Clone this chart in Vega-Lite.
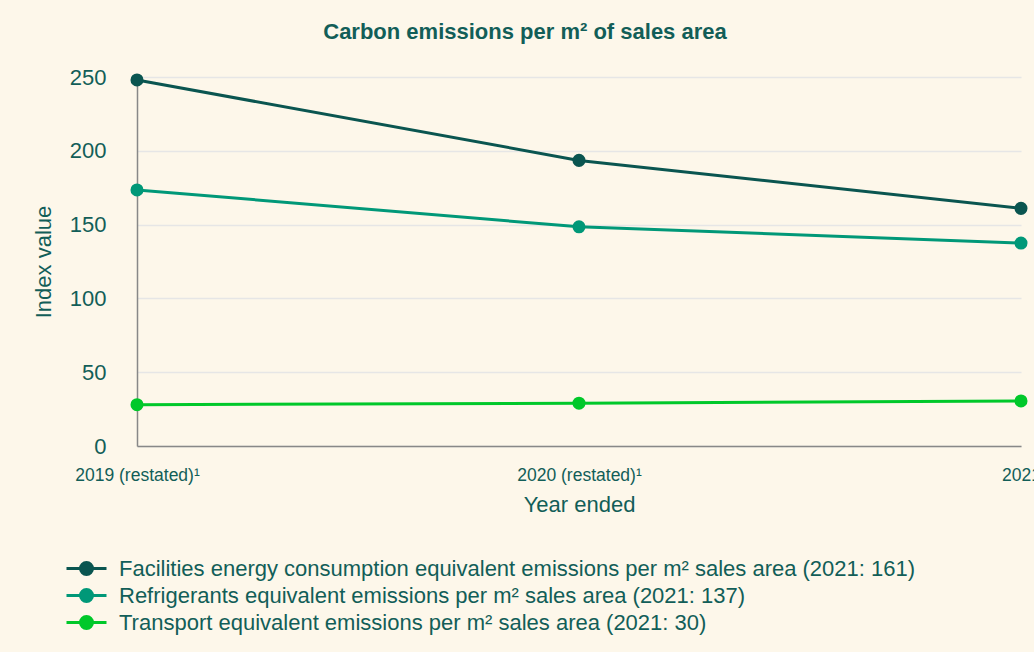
{
  "$schema": "https://vega.github.io/schema/vega-lite/v6.json",
  "width": 884,
  "height": 369,
  "autosize": {"type": "none"},
  "padding": {"left": 137, "top": 77, "right": 13, "bottom": 206},
  "background": "#FDF7EA",
  "title": {
    "text": "Carbon emissions per m² of sales area",
    "font": "Liberation Sans",
    "fontSize": 22,
    "fontWeight": "bold",
    "color": "#125E58",
    "anchor": "middle",
    "dx": -54,
    "offset": 22
  },
  "config": {
    "view": {"stroke": null},
    "font": "Liberation Sans"
  },
  "data": {
    "values": [
      {"year": "2019 (restated)¹", "series": "Facilities energy consumption equivalent emissions per m² sales area (2021: 161)", "value": 248},
      {"year": "2020 (restated)¹", "series": "Facilities energy consumption equivalent emissions per m² sales area (2021: 161)", "value": 193.5},
      {"year": "2021", "series": "Facilities energy consumption equivalent emissions per m² sales area (2021: 161)", "value": 161},
      {"year": "2019 (restated)¹", "series": "Refrigerants equivalent emissions per m² sales area (2021: 137)", "value": 173.5},
      {"year": "2020 (restated)¹", "series": "Refrigerants equivalent emissions per m² sales area (2021: 137)", "value": 148.5},
      {"year": "2021", "series": "Refrigerants equivalent emissions per m² sales area (2021: 137)", "value": 137.5},
      {"year": "2019 (restated)¹", "series": "Transport equivalent emissions per m² sales area (2021: 30)", "value": 28},
      {"year": "2020 (restated)¹", "series": "Transport equivalent emissions per m² sales area (2021: 30)", "value": 29},
      {"year": "2021", "series": "Transport equivalent emissions per m² sales area (2021: 30)", "value": 30.5}
    ]
  },
  "mark": {"type": "line", "strokeWidth": 3, "point": {"size": 170, "filled": true, "opacity": 1}},
  "encoding": {
    "x": {
      "field": "year",
      "type": "ordinal",
      "sort": null,
      "scale": {"type": "point", "padding": 0},
      "axis": {
        "title": "Year ended",
        "titleFont": "Liberation Sans",
        "titleFontSize": 22,
        "titleFontWeight": "normal",
        "titleColor": "#125E58",
        "titlePadding": 11,
        "labelAngle": 0,
        "labelFontSize": 17.5,
        "labelColor": "#125E58",
        "labelPadding": 20,
        "labelDx": -3,
        "labelOverlap": false,
        "labelBound": false,
        "labelFlush": false,
        "ticks": false,
        "domainColor": "#888888",
        "domainWidth": 1.5,
        "grid": false
      }
    },
    "y": {
      "field": "value",
      "type": "quantitative",
      "scale": {"domain": [0, 250], "nice": false},
      "axis": {
        "title": "Index value",
        "titleFont": "Liberation Sans",
        "titleFontSize": 22,
        "titleFontWeight": "normal",
        "titleColor": "#125E58",
        "titlePadding": 14,
        "values": [0, 50, 100, 150, 200, 250],
        "labelFontSize": 22,
        "labelColor": "#125E58",
        "labelPadding": 31,
        "ticks": false,
        "domainColor": "#888888",
        "domainWidth": 1.5,
        "gridColor": "#E6E6E6",
        "gridWidth": 1.5
      }
    },
    "color": {
      "field": "series",
      "type": "nominal",
      "sort": null,
      "scale": {"range": ["#0A5550", "#009878", "#00C82A"]},
      "legend": {
        "title": null,
        "orient": "none",
        "legendX": -62,
        "legendY": 480,
        "padding": 0,
        "labelFontSize": 22,
        "labelColor": "#125E58",
        "labelFont": "Liberation Sans",
        "labelLimit": 1000,
        "labelOffset": 21,
        "rowPadding": 2,
        "symbolType": "M-2,0L2,0M-0.6,0A0.6,0.6 0 1,1 0.6,0A0.6,0.6 0 1,1 -0.6,0Z",
        "symbolSize": 400,
        "symbolStrokeWidth": 3,
        "encode": {
          "symbols": {
            "update": {
              "fill": {"scale": "color", "field": "value"},
              "stroke": {"scale": "color", "field": "value"},
              "opacity": {"value": 1},
              "fillOpacity": {"value": 1}
            }
          }
        }
      }
    }
  }
}
